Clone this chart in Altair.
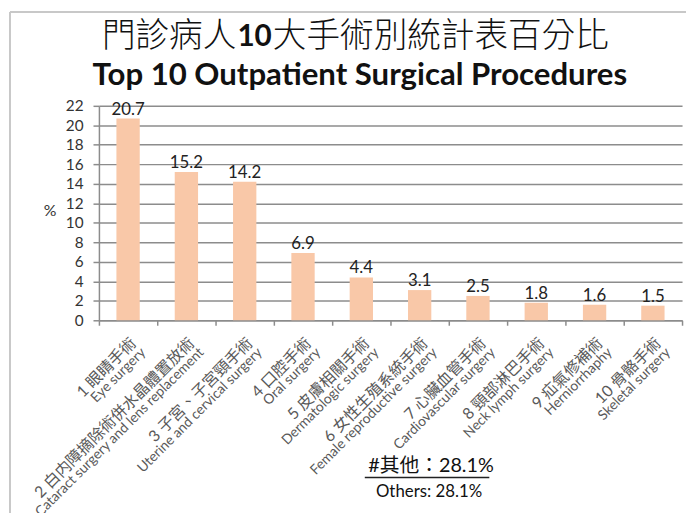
import altair as alt
import pandas as pd

zh_labels = ["1 眼睛手術", "2 白内障摘除術併水晶體置放術", "3 子宮、子宮頸手術", "4 口腔手術",
             "5 皮膚相關手術", "6 女性生殖系統手術", "7 心臟血管手術", "8 頸部淋巴手術",
             "9 疝氣修補術", "10 骨骼手術"]
en_labels = ["Eye surgery", "Cataract surgery and lens replacement", "Uterine and cervical surgery",
             "Oral surgery", "Dermatologic surgery", "Female reproductive surgery",
             "Cardiovascular surgery", "Neck lymph surgery", "Herniorrhaphy", "Skeletal surgery"]
values = [20.7, 15.2, 14.2, 6.9, 4.4, 3.1, 2.5, 1.8, 1.6, 1.5]
y_ticks = list(range(0, 23, 2))

title_zh_a = "門診病人"
title_zh_b = "10"
title_zh_c = "大手術別統計表百分比"
title_en = "Top 10 Outpatient Surgical Procedures"
note_zh = "#其他：28.1%"
note_en = "Others: 28.1%"

df = pd.DataFrame({"cat": zh_labels, "en": en_labels, "value": values})

FONT = "Lato, 'Noto Sans CJK TC'"
CJK = "'Noto Sans CJK TC'"
GRID = "#8c8c8c"
LABEL = "#595959"

W, H = 590, 217

x = alt.X("cat:N", sort=zh_labels, title=None,
          scale=alt.Scale(paddingInner=0, paddingOuter=0),
          axis=alt.Axis(labels=False, tickBand="extent", tickSize=5, tickColor=GRID,
                        tickWidth=1.5, domainColor=GRID, domainWidth=1.5, grid=False))
y = alt.Y("value:Q", title="%",
          scale=alt.Scale(domain=[0, 22], nice=False),
          axis=alt.Axis(values=y_ticks, labelFontSize=15.5, labelColor="#333333", labelFont=FONT,
                        labelPadding=10, labelOverlap=False, tickSize=6, tickColor=GRID,
                        tickWidth=1.5, domainColor=GRID, domainWidth=1.5, grid=True,
                        gridColor=GRID, gridWidth=1.5, titleAngle=0, titleAlign="center",
                        titleBaseline="middle", titleX=-50, titleY=106, titleFontSize=16,
                        titleFont=FONT, titleFontWeight="normal", titleColor="#333333"))

base = alt.Chart(df)
bars = base.mark_bar(width=alt.RelativeBandSize(0.4), color="#F9C8A8").encode(x=x, y=y)
labels = base.mark_text(baseline="alphabetic", dy=-4, fontSize=17, font=FONT,
                        color="#222222").encode(
    x=x, y=y, text=alt.Text("value:Q", format=".1f"))

# category labels: two lines, rotated -45°; dy is applied in the rotated frame
zh_text = base.mark_text(angle=315, align="right", baseline="top", fontSize=16, font=FONT,
                         color=LABEL).encode(x=x, y=alt.value(H + 15), text="cat:N")
en_text = base.mark_text(angle=315, align="right", baseline="top", fontSize=14, font=FONT,
                         color=LABEL, dy=15).encode(x=x, y=alt.value(H + 15), text="en:N")


def txt(t, px, py, size, weight="normal", color="#111111", align="center", font=FONT):
    return alt.Chart(pd.DataFrame({"t": [t]})).mark_text(
        fontSize=size, fontWeight=weight, font=font, color=color,
        align=align, baseline="middle").encode(
        x=alt.value(px), y=alt.value(py), text="t:N")


t1a = txt(title_zh_a, 139, -70, 34, weight=300, align="right", font=CJK)
t1b = txt(title_zh_b, 157.5, -70, 30, weight="bold", align="center", font="Lato")
t1c = txt(title_zh_c, 176, -70, 34, weight=300, align="left", font=CJK)
t2 = txt(title_en, 264, -30, 31.5, weight="bold")
n1 = txt(note_zh, 336, 364, 20)
n2 = txt(note_en, 334, 391, 17)

underline = alt.Chart(pd.DataFrame({"a": [0]})).mark_rule(color="#222222", strokeWidth=1.5).encode(
    x=alt.value(269), x2=alt.value(395), y=alt.value(376))
frame_l = alt.Chart(pd.DataFrame({"a": [0]})).mark_rule(color="#c8c8c8", strokeWidth=2).encode(
    x=alt.value(-90), y=alt.value(-95), y2=alt.value(H + 200))
frame_t = alt.Chart(pd.DataFrame({"a": [0]})).mark_rule(color="#c8c8c8", strokeWidth=2).encode(
    x=alt.value(-90), x2=alt.value(W + 10), y=alt.value(-95))

chart = alt.layer(bars, labels, zh_text, en_text, t1a, t1b, t1c, t2, n1, n2,
                  underline, frame_l, frame_t).properties(
    width=W, height=H,
    autosize=alt.AutoSizeParams(type="none"),
    padding={"left": 92, "top": 96, "right": 4, "bottom": 192},
    background="white",
).configure_view(stroke=None)

chart.save("out.html", embed_options={"renderer": "svg", "actions": False})
